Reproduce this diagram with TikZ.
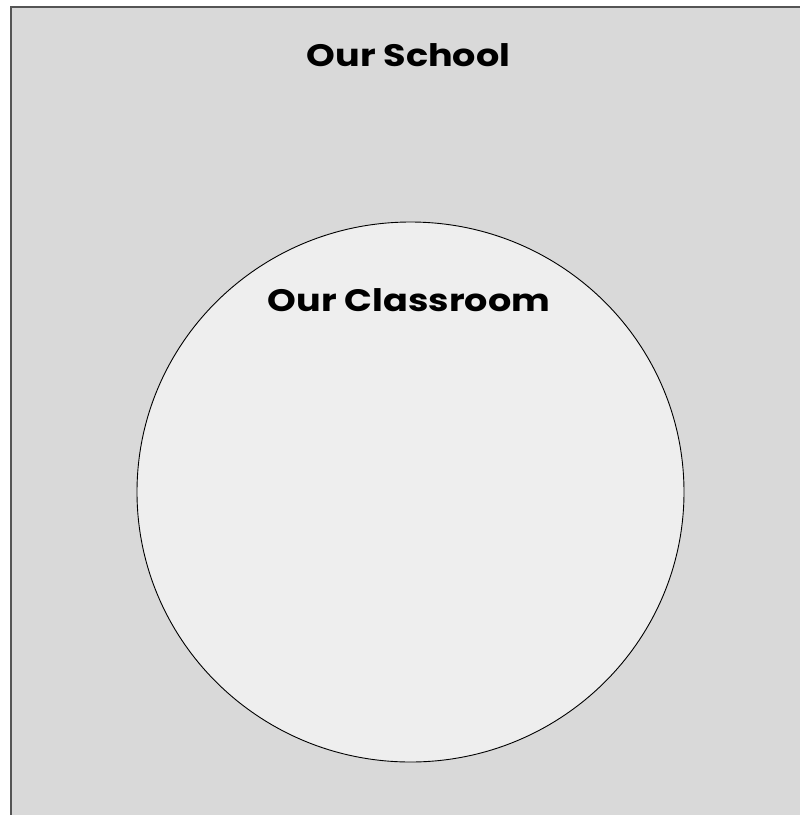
\documentclass[tikz,border=0pt]{standalone}
\usepackage{fontspec}
\usetikzlibrary{shapes.geometric}
\newfontfamily\labelfont{Poppins}[FakeStretch=1.18]
\definecolor{schoolgray}{HTML}{D9D9D9}
\definecolor{roomgray}{HTML}{EEEEEE}
\definecolor{edgegray}{HTML}{555555}
\tikzset{
  setlabel/.style={font=\labelfont\bfseries\fontsize{31}{36}\selectfont, text=black, inner sep=0pt},
}
\begin{document}
\begin{tikzpicture}[x=1pt,y=-1pt]
  \useasboundingbox (0,0) rectangle (800,815);
  \fill[white] (0,0) rectangle (800,815);
  % outer set: the school
  \fill[schoolgray] (10,6) rectangle (802,817);
  \draw[edgegray, line width=2pt] (10.5,817) -- (10.5,6.5) -- (802,6.5);
  % inner set: the classroom
  \node[ellipse, draw=black, fill=roomgray, line width=0.9pt, minimum width=547pt, minimum height=540pt, inner sep=0pt] (room) at (410.5,492) {};
  \node[setlabel] (schoollabel) at (408.5,55) {Our School};
  \node[setlabel] (roomlabel) at (409,300) {Our Classroom};
\end{tikzpicture}
\end{document}
